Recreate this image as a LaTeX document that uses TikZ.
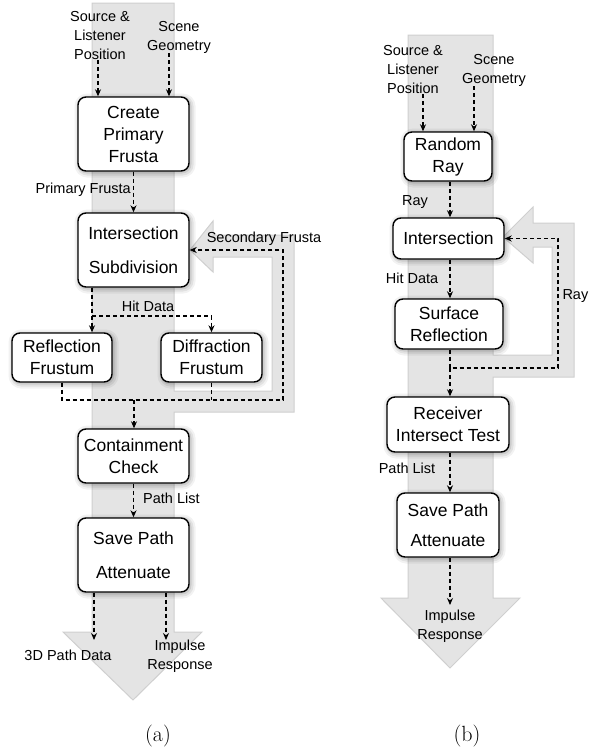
\documentclass[tikz,border=0pt]{standalone}
\usepackage{fontspec}
\newfontfamily\arialish{Liberation Sans}
\usetikzlibrary{arrows.meta}
\definecolor{bandfill}{HTML}{E4E4E4}
\definecolor{bandedge}{HTML}{CFCFCF}
\tikzset{
  band/.style={fill=bandfill, draw=bandedge, line width=1pt, line join=miter},
  box/.style={draw=black, line width=1.4pt, rounded corners=8pt, fill=white, align=center,
    font=\arialish\fontsize{17.5}{22}\selectfont, inner sep=0pt,
    preaction={draw=black, opacity=0.05, line width=10pt, transform canvas={shift={(1.5pt,-1.5pt)}}},
    preaction={draw=black, opacity=0.07, line width=6pt, transform canvas={shift={(1.5pt,-1.5pt)}}},
    preaction={draw=black, opacity=0.09, line width=3pt, transform canvas={shift={(1pt,-1pt)}}}},
  lbl/.style={font=\arialish\fontsize{14.5}{19}\selectfont, align=center, inner sep=0pt},
  dar/.style={dash pattern=on 4pt off 3pt, line width=1.2pt, -{Stealth[length=7pt,width=6pt]}},
  dl/.style={dash pattern=on 4pt off 3pt, line width=1.2pt},
  captext/.style={font=\fontsize{22}{24}\selectfont, inner sep=0pt}
}
\begin{document}
\begin{tikzpicture}[x=1pt,y=-1pt]
\useasboundingbox (0,0) rectangle (589,747);
% ---------- (a) gray band ----------
\path[band] (92,3) -- (174,3) -- (174,391) -- (272,391) -- (272,257) -- (213,257) -- (213,272)
  -- (190,250) -- (213,221) -- (213,235) -- (294,235) -- (294,412) -- (174,412) -- (174,632)
  -- (202,632) -- (133,700) -- (63,632) -- (92,632) -- cycle;
% ---------- (b) gray band ----------
\path[band] (408,35) -- (493,35) -- (493,355) -- (552,355) -- (552,247) -- (533,247) -- (533,263)
  -- (503,237) -- (533,207) -- (533,223) -- (574,223) -- (574,377) -- (493,377) -- (493,598)
  -- (520,598) -- (450,668) -- (381,598) -- (408,598) -- cycle;

% ---------- (a) nodes ----------
\node[box, minimum width=111pt, minimum height=74pt] (cpf) at (133.5,134) {Create\\Primary\\Frusta};
\node[box, minimum width=111pt, minimum height=74pt] (isub) at (133.5,250) {Intersection\\[12pt]Subdivision};
\node[box, minimum width=100pt, minimum height=49pt] (refl) at (62,357.5) {Reflection\\Frustum};
\node[box, minimum width=101pt, minimum height=49pt] (diffr) at (211.5,357.5) {Diffraction\\Frustum};
\node[box, minimum width=111pt, minimum height=54pt] (cont) at (133.5,456) {Containment\\Check};
\node[box, minimum width=111pt, minimum height=74pt] (save) at (133.5,555) {Save Path\\[12pt]Attenuate};

\node[lbl] (srcA) at (100,36) {Source \&\\Listener\\Position};
\node[lbl] (sceneA) at (179,37) {Scene\\Geometry};
\node[lbl, anchor=east] (pfA) at (131,190) {Primary Frusta};
\node[lbl] (hitA) at (148,306) {Hit Data};
\node[lbl] (secA) at (264,239) {Secondary Frusta};
\node[lbl, anchor=west] (plA) at (143,498) {Path List};
\node[lbl] (p3dA) at (68,655) {3D Path Data};
\node[lbl] (irA) at (180,656) {Impulse\\Response};

\coordinate (hitc) at (92,316);
\coordinate (secR) at (283,400);
\coordinate (secM) at (134,400);
\coordinate (outL) at (94,640);
\coordinate (outR) at (166,640);

\draw[dar] ([xshift=-2pt]srcA.south) -- ([xshift=-2pt]srcA.south |- cpf.north);
\draw[dar] ([xshift=-10pt]sceneA.south) -- ([xshift=-10pt]sceneA.south |- cpf.north);
\draw[dar] (cpf.south) -- (isub.north);
\draw[dar] (hitc |- isub.south) -- (hitc |- refl.north);
\draw[dar] (hitc) -| (diffr.north);
\draw[dar] (refl.south) |- (secR) |- (isub.east);
\draw[dl] (diffr.south) -- (diffr.south |- secR);
\draw[dar] (secM) -- (secM |- cont.north);
\draw[dar] (cont.south) -- (save.north);
\draw[dar] (outL |- save.south) -- (outL);
\draw[dar] (outR |- save.south) -- (outR);

% ---------- (b) nodes ----------
\node[box, minimum width=88pt, minimum height=49pt] (rr) at (448,156.5) {Random\\Ray};
\node[box, minimum width=111pt, minimum height=41pt] (intB) at (448.5,238.5) {Intersection};
\node[box, minimum width=108pt, minimum height=50pt] (surf) at (449,324) {Surface\\Reflection};
\node[box, minimum width=122pt, minimum height=55pt] (recv) at (448,424.5) {Receiver\\Intersect Test};
\node[box, minimum width=102pt, minimum height=64pt] (saveB) at (448,525) {Save Path\\[8pt]Attenuate};

\node[lbl] (srcB) at (413,70) {Source \&\\Listener\\Position};
\node[lbl] (sceneB) at (494,70) {Scene\\Geometry};
\node[lbl] (rayB) at (415,202) {Ray};
\node[lbl] (hitB) at (412,278) {Hit Data};
\node[lbl, anchor=east] (rayL) at (588.5,296) {Ray};
\node[lbl] (plB) at (407,468) {Path List};
\node[lbl] (irB) at (450,626) {Impulse\\Response};

\coordinate (ax) at (450,0);
\coordinate (loopM) at (450,368);
\coordinate (loopR) at (558,368);
\coordinate (outB) at (450,605);

\draw[dar] ([xshift=10pt]srcB.south) -- ([xshift=10pt]srcB.south |- rr.north);
\draw[dar] ([xshift=-20pt]sceneB.south) -- ([xshift=-20pt]sceneB.south |- rr.north);
\draw[dar] (ax |- rr.south) -- (ax |- intB.north);
\draw[dar] (ax |- intB.south) -- (ax |- surf.north);
\draw[dar] (ax |- surf.south) -- (loopM) -| (loopR) |- (intB.east);
\draw[dar] (loopM) -- (loopM |- recv.north);
\draw[dar] (ax |- recv.south) -- (ax |- saveB.north);
\draw[dar] (ax |- saveB.south) -- (outB);

% captions
\node[captext] (capA) at (158,736) {(a)};
\node[captext] (capB) at (467,736) {(b)};
\end{tikzpicture}
\end{document}
